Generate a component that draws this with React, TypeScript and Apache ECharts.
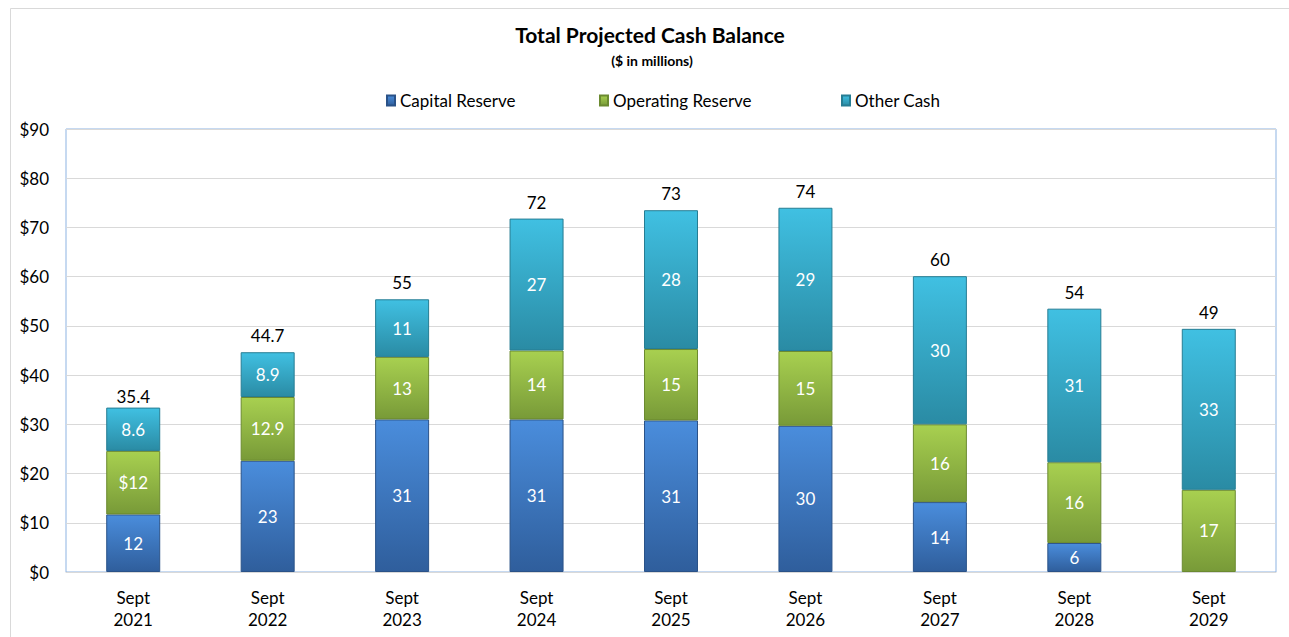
import React, { useEffect, useRef } from "react";
import * as echarts from "echarts";

const categories = ["Sept\n2021", "Sept\n2022", "Sept\n2023", "Sept\n2024", "Sept\n2025", "Sept\n2026", "Sept\n2027", "Sept\n2028", "Sept\n2029"];
const capitalReserve = [11.7, 22.6, 31.0, 31.0, 30.8, 29.7, 14.2, 5.9, null];
const operatingReserve = [12.9, 12.95, 12.7, 14.0, 14.5, 15.2, 15.8, 16.4, 16.7];
const otherCash = [8.8, 9.1, 11.7, 26.8, 28.2, 29.1, 30.1, 31.2, 32.7];
const capitalLabels = ["12", "23", "31", "31", "31", "30", "14", "6", ""];
const operatingLabels = ["$12", "12.9", "13", "14", "15", "15", "16", "16", "17"];
const otherLabels = ["8.6", "8.9", "11", "27", "28", "29", "30", "31", "33"];
const totalLabels = ["35.4", "44.7", "55", "72", "73", "74", "60", "54", "49"];
const yTicks = [0, 10, 20, 30, 40, 50, 60, 70, 80, 90];

const FONT = "Lato, 'Open Sans', sans-serif";

const grad = (top: string, bottom: string) =>
  new echarts.graphic.LinearGradient(0, 0, 0, 1, [
    { offset: 0, color: top },
    { offset: 1, color: bottom },
  ]);

const BLUE = { top: "#4a8ddc", bottom: "#2f5e9c", border: "#2a5288" };
const GREEN = { top: "#a8d050", bottom: "#789a38", border: "#6b8a30" };
const CYAN = { top: "#40c0e2", bottom: "#2a8ba4", border: "#267d93" };

export default function App() {
  const ref = useRef<HTMLDivElement>(null);
  useEffect(() => {
    if (!ref.current) return;
    const chart = echarts.init(ref.current, undefined, { renderer: "svg" });
    const innerLabel = (labels: string[]) => ({
      show: true,
      position: "inside" as const,
      color: "#ffffff",
      fontSize: 17,
      fontFamily: FONT,
      formatter: (p: any) => labels[p.dataIndex] ?? "",
    });
    const legendBase = {
      top: 87,
      itemWidth: 8,
      itemHeight: 10,
      icon: "rect",
      textStyle: { fontSize: 17, fontFamily: FONT, color: "#000", padding: [0, 0, 0, 0] },
      selectedMode: false,
    };
    chart.setOption({
      animation: false,
      backgroundColor: "#ffffff",
      graphic: [
        {
          type: "rect",
          shape: { x: 10.5, y: 8.5, width: 1400, height: 800 },
          style: { fill: "none", stroke: "#d9d9d9", lineWidth: 1 },
          silent: true,
        },
        {
          type: "text",
          x: 650,
          y: 34,
          style: {
            text: "Total Projected Cash Balance",
            textAlign: "center",
            textVerticalAlign: "middle",
            fontSize: 21,
            fontWeight: "bold",
            fontFamily: FONT,
            fill: "#000",
          },
        },
        {
          type: "text",
          x: 652,
          y: 60,
          style: {
            text: "($ in millions)",
            textAlign: "center",
            textVerticalAlign: "middle",
            fontSize: 14,
            fontWeight: "bold",
            fontFamily: FONT,
            fill: "#000",
          },
        },
      ],
      legend: [
        { ...legendBase, left: 381, data: ["Capital Reserve"] },
        { ...legendBase, left: 594, data: ["Operating Reserve"] },
        { ...legendBase, left: 836, data: ["Other Cash"] },
      ],
      grid: {
        left: 66,
        right: 13,
        top: 129,
        bottom: 65,
        show: true,
        borderColor: "#8db3e2",
        borderWidth: 1,
        backgroundColor: "transparent",
      },
      xAxis: {
        type: "category",
        data: categories,
        axisTick: { show: false },
        axisLine: { show: true, lineStyle: { color: "#d9d9d9", width: 1 } },
        axisLabel: {
          color: "#000",
          fontSize: 17,
          fontFamily: FONT,
          lineHeight: 22,
          margin: 14,
          interval: 0,
        },
      },
      yAxis: {
        type: "value",
        min: yTicks[0],
        max: yTicks[yTicks.length - 1],
        interval: 10,
        axisLine: { show: false },
        axisTick: { show: false },
        splitLine: { lineStyle: { color: "#d9d9d9", width: 1 } },
        axisLabel: {
          color: "#000",
          fontSize: 17,
          fontFamily: FONT,
          margin: 17,
          formatter: (v: number) => "$" + v,
        },
      },
      series: [
        {
          name: "Capital Reserve",
          type: "bar",
          stack: "cash",
          barWidth: 54,
          data: capitalReserve,
          itemStyle: { color: grad(BLUE.top, BLUE.bottom), borderColor: BLUE.border, borderWidth: 1 },
          label: innerLabel(capitalLabels),
        },
        {
          name: "Operating Reserve",
          type: "bar",
          stack: "cash",
          barWidth: 54,
          data: operatingReserve,
          itemStyle: { color: grad(GREEN.top, GREEN.bottom), borderColor: GREEN.border, borderWidth: 1 },
          label: innerLabel(operatingLabels),
        },
        {
          name: "Other Cash",
          type: "bar",
          stack: "cash",
          barWidth: 54,
          data: otherCash,
          itemStyle: { color: grad(CYAN.top, CYAN.bottom), borderColor: CYAN.border, borderWidth: 1 },
          label: innerLabel(otherLabels),
        },
        {
          name: "Total",
          type: "bar",
          stack: "cash",
          barWidth: 54,
          data: totalLabels.map((_, i) => (i === 0 ? { value: 0, label: { distance: 3 } } : 0)),
          itemStyle: { color: "rgba(0,0,0,0)" },
          label: {
            show: true,
            position: "top",
            distance: 8,
            color: "#000",
            fontSize: 17,
            fontFamily: FONT,
            formatter: (p: any) => totalLabels[p.dataIndex],
          },
          silent: true,
        },
      ],
    });
    return () => chart.dispose();
  }, []);
  return (
    <div
      ref={ref}
      style={{ position: "fixed", left: 0, top: 0, width: 1289, height: 637, background: "#fff" }}
    />
  );
}
